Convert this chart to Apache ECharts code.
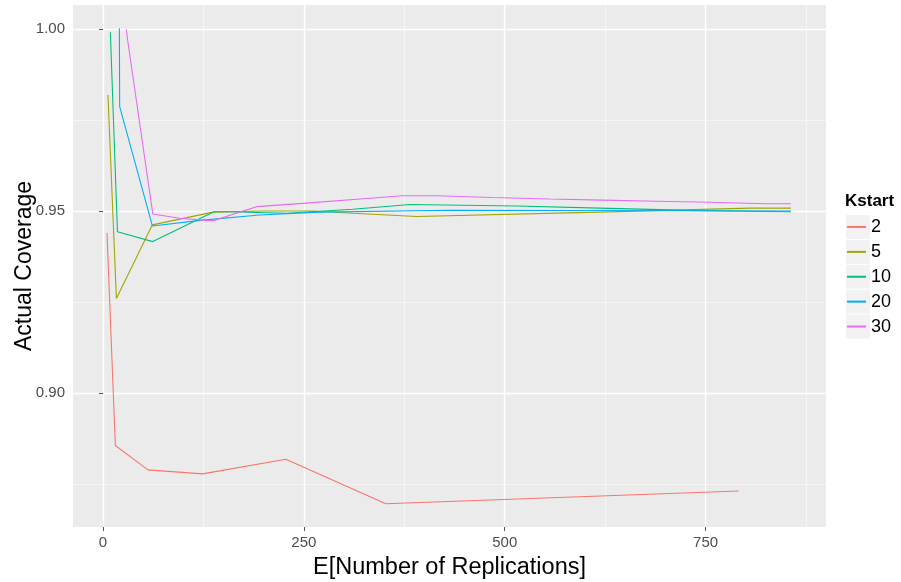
<!DOCTYPE html>
<html>
<head>
<meta charset="utf-8">
<script src="https://cdn.jsdelivr.net/npm/echarts@6/dist/echarts.min.js"></script>
<style>html,body{margin:0;padding:0;background:#fff;}#c{width:901px;height:582px;}</style>
</head>
<body>
<div id="c"></div>
<script>
// ---- data ----
const seriesNames = ['2', '5', '10', '20', '30'];
const colors = ['#F8766D', '#A3A500', '#00BF7D', '#00B0F6', '#E76BF3'];

const k2x = [5.0, 15.4, 56, 124, 227.5, 352, 791];
const k2y = [0.9440, 0.8856, 0.8789, 0.8778, 0.8818, 0.8696, 0.8731];

const k5x = [6.2, 16.7, 61.5, 137, 200, 260, 311, 390.5, 618, 805, 856];
const k5y = [0.9819, 0.9260, 0.9462, 0.9497, 0.9500, 0.9500, 0.9494, 0.9485, 0.9497, 0.9508, 0.9508];

const k10x = [9.2, 18, 62, 138, 155, 229, 311, 382, 515, 618, 743, 856];
const k10y = [0.9991, 0.9443, 0.9416, 0.9498, 0.9498, 0.9494, 0.9505, 0.9518, 0.9514, 0.9508, 0.9501, 0.9498];

const k20x = [20.4, 20.8, 61.5, 124, 195, 270, 432, 856];
const k20y = [1.0002, 0.9787, 0.9459, 0.9475, 0.9489, 0.9497, 0.9502, 0.9500];

const k30x = [29, 31, 62, 95.5, 136.5, 191, 248.6, 332, 373, 415, 485, 556, 622, 689, 755, 826, 856];
const k30y = [0.9999, 0.9965, 0.9492, 0.9480, 0.9473, 0.9512, 0.9521, 0.9535, 0.9542, 0.9542, 0.9537, 0.9533, 0.9530, 0.9527, 0.9524, 0.9520, 0.9520];

const xTicks = [0, 250, 500, 750];
const xMinorTicks = [125, 375, 625, 875];
const yTicks = [0.90, 0.95, 1.00];
const yMinorTicks = [0.875, 0.925, 0.975];

const allX = [k2x, k5x, k10x, k20x, k30x];
const allY = [k2y, k5y, k10y, k20y, k30y];

// ---- chart ----
const FONT = '"Liberation Sans", Arial, sans-serif';
const chart = echarts.init(document.getElementById('c'), null, {renderer: 'canvas'});

const series = seriesNames.map((n, i) => ({
  name: n,
  type: 'line',
  xAxisIndex: 0,
  yAxisIndex: 0,
  showSymbol: false,
  symbol: 'none',
  data: allX[i].map((x, j) => [x, allY[i][j]]),
  lineStyle: {color: colors[i], width: 1.1},
  itemStyle: {color: colors[i]},
  emphasis: {disabled: true}
}));

const keyTop = 215, keyStep = 24.9;
const keyRects = seriesNames.map((n, i) => ({
  type: 'rect',
  shape: {x: 846, y: keyTop + i * keyStep, width: 24, height: keyStep - 1},
  style: {fill: '#F2F2F2'},
  z: 0
}));

const option = {
  animation: false,
  backgroundColor: '#ffffff',
  grid: {left: 73, top: 5, width: 753, height: 522, show: true, backgroundColor: '#EBEBEB', borderWidth: 0, containLabel: false, outerBoundsMode: 'none'},
  xAxis: [{
    type: 'value', min: -37.3, max: 899.8,
    name: 'E[Number of Replications]', nameLocation: 'middle', nameGap: 29, nameMoveOverlap: false,
    nameTextStyle: {fontFamily: FONT, fontSize: 23.5, color: '#000'},
    axisLine: {show: false},
    axisTick: {show: true, length: 4, customValues: xTicks, lineStyle: {color: '#555', width: 1}},
    axisLabel: {customValues: xTicks, margin: 8, fontFamily: FONT, fontSize: 15, color: '#4D4D4D', formatter: v => String(v)},
    splitLine: {show: true, lineStyle: {color: '#ffffff', width: 1.4}}
  }, {
    type: 'value', min: -37.3, max: 899.8, position: 'bottom',
    axisLine: {show: false},
    axisTick: {show: false, customValues: xMinorTicks},
    axisLabel: {show: false, customValues: xMinorTicks},
    splitLine: {show: true, lineStyle: {color: 'rgba(255,255,255,0.75)', width: 0.7}}
  }],
  yAxis: [{
    type: 'value', min: 0.8632, max: 1.0066,
    name: 'Actual Coverage', nameLocation: 'middle', nameGap: 37, nameMoveOverlap: false,
    nameTextStyle: {fontFamily: FONT, fontSize: 23, color: '#000'},
    axisLine: {show: false},
    axisTick: {show: true, length: 4, customValues: yTicks, lineStyle: {color: '#555', width: 1}},
    axisLabel: {customValues: yTicks, margin: 8, fontFamily: FONT, fontSize: 15, color: '#4D4D4D', formatter: v => v.toFixed(2)},
    splitLine: {show: true, lineStyle: {color: '#ffffff', width: 1.4}}
  }, {
    type: 'value', min: 0.8632, max: 1.0066, position: 'left',
    axisLine: {show: false},
    axisTick: {show: false, customValues: yMinorTicks},
    axisLabel: {show: false, customValues: yMinorTicks},
    splitLine: {show: true, lineStyle: {color: 'rgba(255,255,255,0.75)', width: 0.7}}
  }],
  legend: {
    orient: 'vertical', left: 847, top: keyTop + (keyStep - 1) / 2 - 10, padding: 0,
    itemWidth: 19, itemHeight: 2, itemGap: keyStep - 20, icon: 'rect',
    data: seriesNames,
    textStyle: {fontFamily: FONT, fontSize: 18, color: '#000', lineHeight: 20},
    selectedMode: false
  },
  graphic: [
    ...keyRects,
    {type: 'text', left: 845, top: 193, style: {text: 'Kstart', font: 'bold 17px ' + FONT, fill: '#000'}}
  ],
  series: series
};
chart.setOption(option);
</script>
</body>
</html>
